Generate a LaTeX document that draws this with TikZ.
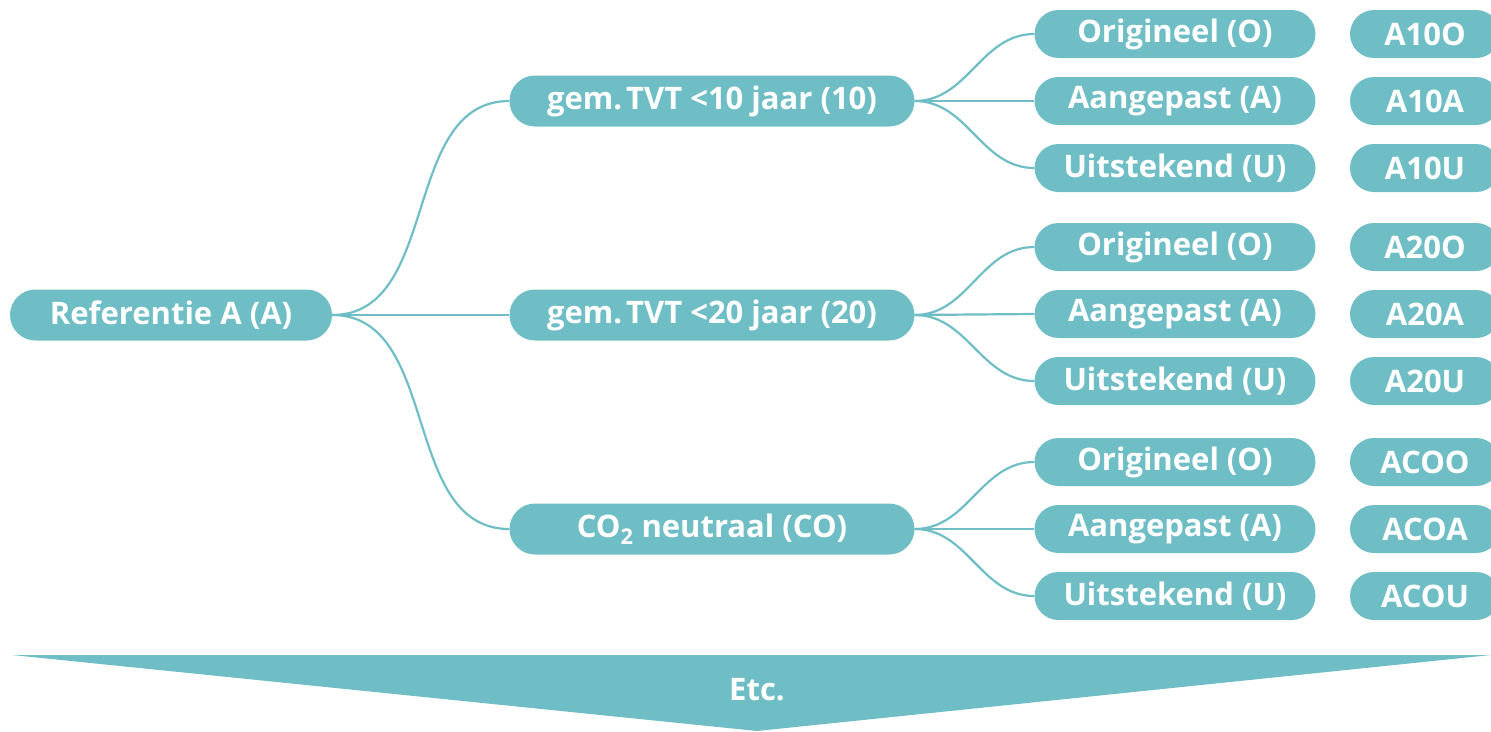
\documentclass[tikz,border=0pt]{standalone}
\usepackage{fontspec}
\setmainfont{Open Sans}
\usetikzlibrary{shapes.misc}
\definecolor{petrol}{HTML}{6FBEC6}

\begin{document}
\begin{tikzpicture}[x=1pt, y=-1pt,
	blok/.style={rounded rectangle, fill=petrol, text=white, inner sep=0pt,
		font=\bfseries\fontsize{31}{34}\selectfont, minimum height=51pt},
	blad/.style={blok, minimum width=281pt, minimum height=48pt},
	code/.style={blok, minimum width=150pt, minimum height=48pt},
	tak/.style={petrol, line width=2.2pt}]
	\useasboundingbox (0,0) rectangle (1491,731);

	% {{{ boom
	\node[blok, minimum width=322pt] (ref) at (171,315) {Referentie A (A)};
	\node[blok, minimum width=405pt] (t10) at (712,101) {gem.\hspace{4pt}TVT <10 jaar (10)};
	\node[blok, minimum width=405pt] (t20) at (712,315) {gem.\hspace{4pt}TVT <20 jaar (20)};
	\node[blok, minimum width=405pt] (tco) at (712,529) {CO\textsubscript{\raisebox{-3pt}{2}} neutraal (CO)};

	\draw[tak] (ref.east) to[out=0, in=180] (t10.west);
	\draw[tak] (ref.east) -- (t20.west);
	\draw[tak] (ref.east) to[out=0, in=180] (tco.west);

	\foreach \t/\y/\c in {t10/101/10, t20/314/20, tco/529/CO} {
		\node[blad] (\t o) at (1175,\y-67) {Origineel (O)};
		\node[blad] (\t a) at (1175,\y) {Aangepast (A)};
		\node[blad] (\t u) at (1175,\y+67) {Uitstekend (U)};
		\node[code] (\t co) at (1425,\y-67) {A\c O};
		\node[code] (\t ca) at (1425,\y) {A\c A};
		\node[code] (\t cu) at (1425,\y+67) {A\c U};
		\draw[tak] (\t.east) to[out=0, in=180] (\t o.west);
		\draw[tak] (\t.east) -- (\t a.west);
		\draw[tak] (\t.east) to[out=0, in=180] (\t u.west);
	}
	% }}}

	% {{{ pijl
	\fill[petrol] (12,655) -- (1491,655) -- (757,731) -- cycle;
	\node[text=white, font=\bfseries\fontsize{31}{34}\selectfont] (etc) at (757,690) {Etc.};
	% }}}
\end{tikzpicture}
\end{document}
